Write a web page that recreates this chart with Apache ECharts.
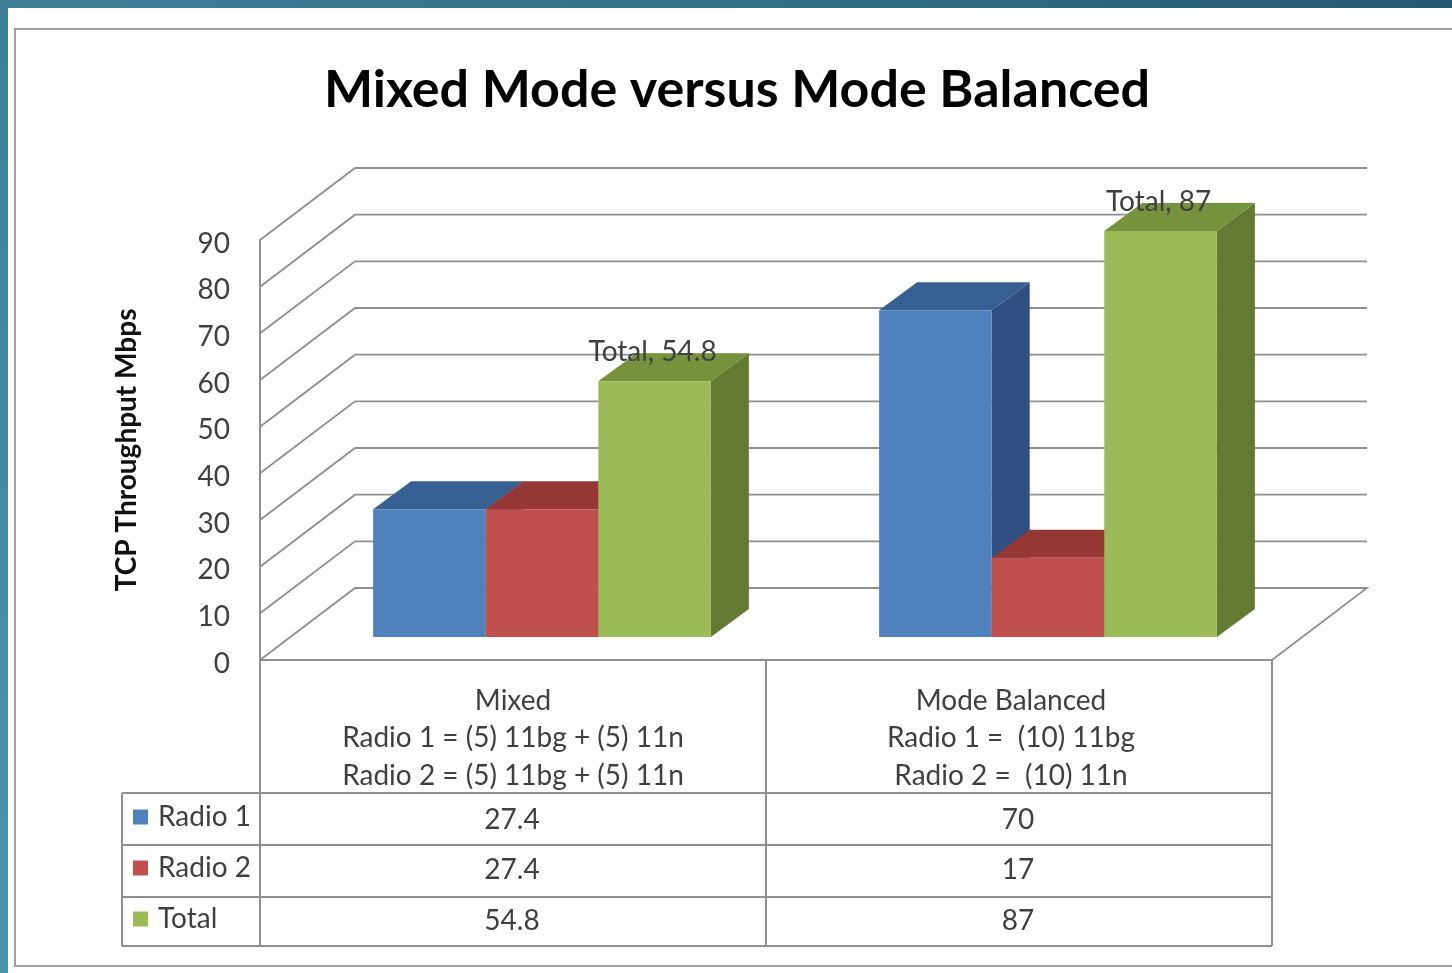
<!DOCTYPE html>
<html>
<head>
<meta charset="utf-8">
<title>Mixed Mode versus Mode Balanced</title>
<style>
  html, body { margin: 0; padding: 0; background: #fff; }
  /* the reference is a soft upscaled screenshot */
  #chart { width: 1452px; height: 973px; filter: blur(0.6px); }
</style>
<script src="https://cdn.jsdelivr.net/npm/echarts@6/dist/echarts.min.js"></script>
</head>
<body>
<div id="chart"></div>
<script>
const categories = ['Mixed', 'Mode Balanced']
const categoryNotes = [
  ['Mixed', 'Radio 1 = (5) 11bg + (5) 11n', 'Radio 2 = (5) 11bg + (5) 11n'],
  ['Mode Balanced', 'Radio 1 =  (10) 11bg', 'Radio 2 =  (10) 11n']
]
const radio1 = [27.4, 70]
const radio2 = [27.4, 17]
const total = [54.8, 87]
const yTicks = [0, 10, 20, 30, 40, 50, 60, 70, 80, 90]

const FONT = 'Lato, "Open Sans", sans-serif'
const LINE = '#8f8f8f'
const TEXT = '#3f3f3f'

// the fake 3d: how far back the walls, and the bars on the floor, are pushed
const wall = {dx: 95, dy: -72}
const floor = {dx: 29, dy: -23}
const depth = {dx: 38, dy: -28}
const barShare = 0.2225

// row centres and rules of the table under the chart
const headerY = [701, 738, 776]
const headerShift = [0, -8]
const rowY = [820, 870, 921]
const ruleY = [793, 845, 897, 946]
const legendLeft = 122

function poly (points, fill) {
  return {type: 'polygon', shape: {points}, style: {fill}}
}

function barSeries (name, values, index, colors, showLabel) {
  return {
    type: 'custom',
    name,
    z: 3,
    itemStyle: {color: colors[0]},
    encode: {x: 0, y: 1},
    data: values.map((v, i) => [i, v]),
    renderItem (params, api) {
      const v = api.value(1)
      const center = api.coord([api.value(0), 0])
      const top = api.coord([api.value(0), v])[1] + floor.dy
      const base = center[1] + floor.dy
      const w = api.size([1, 0])[0] * barShare
      const x0 = center[0] + floor.dx + (index - 1.5) * w
      const x1 = x0 + w
      const children = [
        poly([[x1, top], [x1 + depth.dx, top + depth.dy], [x1 + depth.dx, base + depth.dy], [x1, base]], colors[2]),
        poly([[x0, top], [x0 + depth.dx, top + depth.dy], [x1 + depth.dx, top + depth.dy], [x1, top]], colors[1]),
        poly([[x0, top], [x1, top], [x1, base], [x0, base]], colors[0])
      ]
      if (showLabel) {
        children.push({
          type: 'text',
          z2: 10,
          style: {
            x: (x0 + x1) / 2 - 2,
            y: top - 29,
            text: name + ', ' + v,
            fill: TEXT,
            font: '28px ' + FONT,
            align: 'center',
            verticalAlign: 'middle'
          }
        })
      }
      return {type: 'group', children}
    }
  }
}

const wallSeries = {
  type: 'custom',
  z: 1,
  silent: true,
  encode: {y: 0},
  data: yTicks.map(v => [0, v]),
  renderItem (params, api) {
    const box = params.coordSys
    const y = api.coord([0, api.value(1)])[1]
    const left = box.x
    const right = box.x + box.width
    const points = [[left, y], [left + wall.dx, y + wall.dy], [right + wall.dx, y + wall.dy]]
    if (api.value(1) === 0) points.push([right, y])
    return {
      type: 'polyline',
      shape: {points},
      style: {fill: 'none', stroke: LINE, lineWidth: 1.8}
    }
  }
}

const tableSeries = {
  type: 'custom',
  z: 2,
  silent: true,
  data: categories.map((c, i) => [i, 0]),
  renderItem (params, api) {
    const i = api.value(0)
    const cx = api.coord([i, 0])[0]
    const halfBand = api.size([1, 0])[0] / 2
    const children = []
    const text = (x, y, t) => children.push({
      type: 'text',
      style: {x, y, text: t, fill: TEXT, font: '28px ' + FONT, align: 'center', verticalAlign: 'middle'}
    })
    const rule = (x1, y1, x2, y2) => children.push({
      type: 'line',
      shape: {x1, y1, x2, y2},
      style: {stroke: LINE, lineWidth: 2}
    })
    categoryNotes[i].forEach((t, k) => text(cx + headerShift[i], headerY[k], t))
    ;[radio1, radio2, total].forEach((vals, k) => text(cx - 1, rowY[k], String(vals[i])))
    rule(cx + halfBand, api.coord([i, 0])[1], cx + halfBand, ruleY[3])
    if (i === 0) {
      rule(cx - halfBand, api.coord([i, 0])[1], cx - halfBand, ruleY[3])
      rule(legendLeft, ruleY[0], legendLeft, ruleY[3])
    }
    ruleY.forEach(y => rule(i === 0 ? legendLeft : cx - halfBand, y, cx + halfBand, y))
    return {type: 'group', children}
  }
}

const chart = echarts.init(document.getElementById('chart'))
chart.setOption({
  animation: false,
  textStyle: {fontFamily: FONT},
  title: {
    text: 'Mixed Mode versus Mode Balanced',
    left: 732,
    top: 59,
    textAlign: 'center',
    textStyle: {fontFamily: FONT, fontSize: 52, fontWeight: 'bold', color: '#000'}
  },
  graphic: [
    {
      type: 'rect',
      z: -10,
      silent: true,
      shape: {x: 0, y: 0, width: 1452, height: 8},
      style: {fill: new echarts.graphic.LinearGradient(0, 0, 1, 0, [
        {offset: 0, color: '#3f7f98'},
        {offset: 0.5, color: '#33708a'},
        {offset: 1, color: '#245a72'}
      ])}
    },
    {
      type: 'rect',
      z: -10,
      silent: true,
      shape: {x: 0, y: 0, width: 8, height: 973},
      style: {fill: new echarts.graphic.LinearGradient(0, 0, 0, 1, [
        {offset: 0, color: '#3f7f98'},
        {offset: 1, color: '#4c94ae'}
      ])}
    },
    {
      type: 'rect',
      z: -9,
      silent: true,
      shape: {x: 15, y: 29, width: 1460, height: 937},
      style: {fill: '#fff', stroke: '#a0a0a0', lineWidth: 2}
    }
  ],
  legend: {
    orient: 'vertical',
    left: 128,
    top: 797,
    itemWidth: 15,
    itemHeight: 15,
    itemGap: 21,
    icon: 'rect',
    selectedMode: false,
    data: ['Radio 1', 'Radio 2', 'Total'],
    textStyle: {fontFamily: FONT, fontSize: 28, color: TEXT, lineHeight: 30, padding: [0, 0, 0, 5]}
  },
  grid: {left: 260, top: 240, width: 1012, height: 420},
  xAxis: {
    type: 'category',
    data: categories,
    axisLine: {lineStyle: {color: LINE, width: 2}},
    axisTick: {show: false},
    axisLabel: {show: false}
  },
  yAxis: {
    type: 'value',
    min: 0,
    max: 90,
    interval: 10,
    name: 'TCP Throughput Mbps',
    nameLocation: 'middle',
    nameGap: 119,
    nameTextStyle: {fontFamily: FONT, fontSize: 28, fontWeight: 'bold', color: '#111'},
    axisLine: {show: true, lineStyle: {color: LINE, width: 2}},
    axisTick: {show: false},
    splitLine: {show: false},
    axisLabel: {margin: 30, fontFamily: FONT, fontSize: 28, color: TEXT, verticalAlign: 'top', lineHeight: 7}
  },
  series: [
    wallSeries,
    tableSeries,
    barSeries('Radio 1', radio1, 0, ['#4f81bd', '#366092', '#2f5080']),
    barSeries('Radio 2', radio2, 1, ['#c0504d', '#953735', '#7f2f2d']),
    barSeries('Total', total, 2, ['#9bbb59', '#76923c', '#647a32'], true)
  ]
})
</script>
</body>
</html>
